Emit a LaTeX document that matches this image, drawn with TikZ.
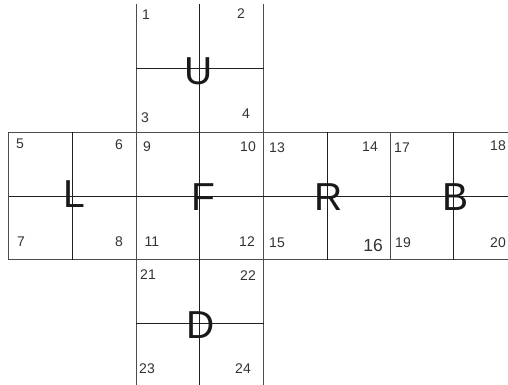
\documentclass[tikz,border=0pt]{standalone}
\usepackage{fontspec}
\setmainfont{Liberation Sans}
\begin{document}
\begin{tikzpicture}[x=1pt,y=-1pt,
  border/.style={draw=black!70,line width=0.9pt},
  inner/.style={draw=black!88,line width=0.9pt},
  num/.style={inner sep=0pt,text=black!80,font=\fontsize{14}{14}\selectfont},
  bignum/.style={inner sep=0pt,text=black!80,font=\fontsize{17.5}{17.5}\selectfont},
  face/.style={inner sep=0pt,text=black!90,font=\fontsize{39}{39}\selectfont}]
\useasboundingbox (0,0) rectangle (508,385);
\fill[white] (0,0) rectangle (508,385);
\begin{scope}
\clip (0,0) rectangle (508,385);
% face borders
\path[border] (136,4.5) -- (136,385);
\path[border] (263.5,4.5) -- (263.5,385);
\path[border] (8.5,132) -- (508,132);
\path[border] (8.5,259.5) -- (508,259.5);
\path[border] (8.5,132) -- (8.5,259.5);
\path[border] (390,132) -- (390,259.5);
% inner lines
\path[inner] (199.5,4.5) -- (199.5,385);
\path[inner] (136,68.5) -- (263.5,68.5);
\path[inner] (136,323) -- (263.5,323);
\path[inner] (8.5,196) -- (508,196);
\path[inner] (72.5,132) -- (72.5,259.5);
\path[inner] (327,132) -- (327,259.5);
\path[inner] (453.5,132) -- (453.5,259.5);
\end{scope}
% face letters
\node[face] (fU) at (199,71) {U};
\node[face] (fL) at (74,194) {L};
\node[face] (fF) at (203,197) {F};
\node[face] (fR) at (329,197) {R};
\node[face] (fB) at (455,197) {B};
\node[face] (fD) at (201,325) {D};
% numbers
\node[num] (n1) at (146,15) {1};
\node[num] (n2) at (241,14) {2};
\node[num] (n3) at (145,118) {3};
\node[num] (n4) at (246,114) {4};
\node[num] (n5) at (20,144) {5};
\node[num] (n6) at (119,145) {6};
\node[num] (n7) at (21,242) {7};
\node[num] (n8) at (119,242) {8};
\node[num] (n9) at (147,147) {9};
\node[num] (n10) at (248,147) {10};
\node[num] (n11) at (152,242) {11};
\node[num] (n12) at (247,242) {12};
\node[num] (n13) at (277,148) {13};
\node[num] (n14) at (370,147) {14};
\node[num] (n15) at (277,243) {15};
\node[bignum] (n16) at (373,245) {16};
\node[num] (n17) at (402,148) {17};
\node[num] (n18) at (498,146) {18};
\node[num] (n19) at (403,243) {19};
\node[num] (n20) at (498,243) {20};
\node[num] (n21) at (148,275) {21};
\node[num] (n22) at (248,276) {22};
\node[num] (n23) at (147,369) {23};
\node[num] (n24) at (243,369) {24};
\end{tikzpicture}
\end{document}
